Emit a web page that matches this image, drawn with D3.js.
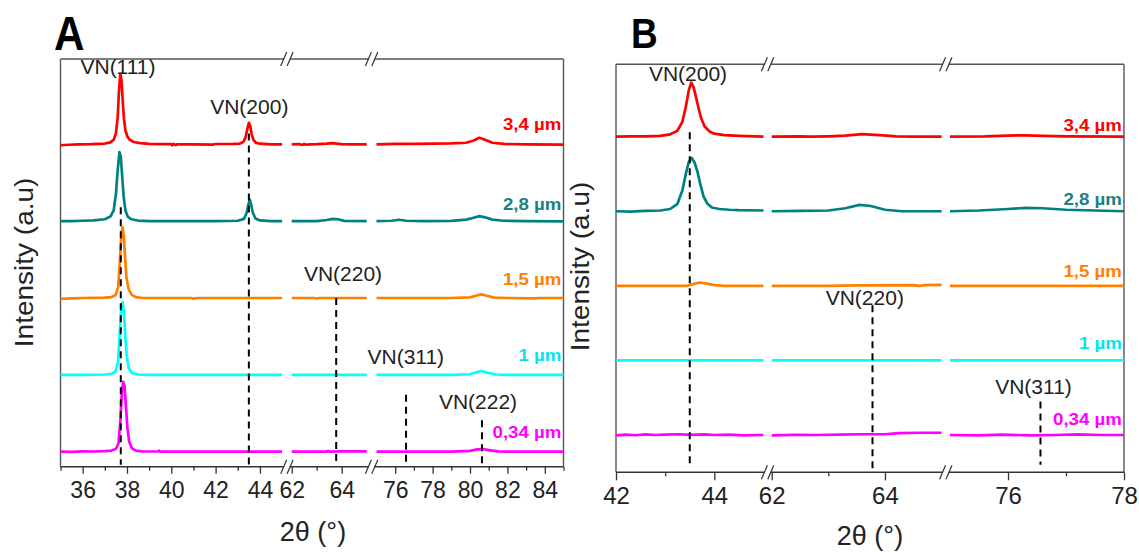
<!DOCTYPE html>
<html>
<head>
<meta charset="utf-8">
<script src="https://cdn.jsdelivr.net/npm/d3@7"></script>
<style>
  html, body { margin: 0; padding: 0; background: #fff; }
  svg { display: block; }
  text { font-family: "Liberation Sans", Arial, sans-serif; }
</style>
</head>
<body>
<svg id="chart" width="1139" height="552"></svg>
<script>
// ---------------- DATA ----------------
const seriesLabels = ["3,4 µm", "2,8 µm", "1,5 µm", "1 µm", "0,34 µm"];
const stackOffsets = [400, 300, 200, 100, 0];

// x-axis segments (broken axis), degrees 2θ
const segmentsA = [[35, 45], [62, 65], [75, 85]];
const segmentsB = [[42, 45], [62, 65], [75, 78]];

const majorTicksA = [36, 38, 40, 42, 44, 62, 64, 76, 78, 80, 82, 84];
const minorTicksA = [35, 37, 39, 41, 43, 63, 77, 79, 81, 83, 85];
const majorTicksB = [42, 44, 62, 64, 76, 78];
const minorTicksB = [43, 63, 77];

// reflection markers: [label, 2θ, top of dashed line (a.u.), bottom (a.u.)]
const reflectionsA = [["VN(111)", 37.72, 318, -17], ["VN(200)", 43.5, 414, -17],
                      ["VN(220)", 63.78, 200, -17], ["VN(311)", 76.58, 74, -17],
                      ["VN(222)", 80.64, 41, -17]];
const reflectionsB = [["VN(200)", 43.5, 406, -42], ["VN(220)", 63.78, 174, -50],
                      ["VN(311)", 76.56, 45, -40]];

// Panel A patterns: [2θ, intensity a.u. (relative to each curve's baseline)]
const a34 = [[35.0,-1.2],[35.4,-0.6],[35.8,0],[36.4,0.2],[37.0,1],[37.25,2.5],[37.4,6],[37.5,14],[37.58,35],[37.64,70],[37.70,91.5],[37.75,84],[37.8,60],[37.86,34],[37.93,18],[38.02,10],[38.12,6],[38.3,3],[38.6,1.5],[39.0,0.6],[39.6,0.3],[40.0,0.2],[40.05,-1.2],[40.1,0.6],[40.2,-1],[40.25,0],[41.0,0],[41.9,-0.3],[42.0,0.4],[42.8,0.5],[43.1,1],[43.25,3],[43.35,9],[43.43,20],[43.5,28],[43.56,24],[43.62,14],[43.7,6],[43.82,2],[44.0,0.8],[44.5,0],[45.0,0],
  [62.0,0],[62.3,0.3],[62.4,-0.8],[62.5,0.2],[62.6,-0.6],[62.7,0],[63.0,0.3],[63.4,1],[63.6,1.5],[63.8,0.8],[64.0,0.3],[64.5,0],[65.0,0],
  [75.0,0],[76.0,0.5],[77.0,0.5],[78.0,0.8],[79.0,1.2],[79.8,2],[80.2,5],[80.5,8.5],[80.8,6],[81.2,2],[81.8,0.5],[83.0,0],[85.0,-0.4]];
const a28 = [[35.0,0],[35.5,0],[36.0,0.5],[36.5,1],[37.0,2.5],[37.25,6],[37.4,14],[37.5,35],[37.58,66],[37.66,89.8],[37.72,84],[37.78,60],[37.85,32],[37.93,14],[38.03,6],[38.2,2.5],[38.5,0.8],[39.0,0],[40.0,0],[41.0,0],[42.0,0],[43.0,0.5],[43.28,3],[43.4,11],[43.48,22],[43.54,28],[43.6,22],[43.68,11],[43.8,3.5],[44.0,1],[44.5,0],[45.0,0],
  [62.0,0],[63.0,0],[63.4,1.5],[63.65,3],[63.85,2.5],[64.1,0.3],[65.0,0],
  [75.0,0],[75.8,0.5],[76.2,1.8],[76.6,0.5],[77.5,0],[79.0,0.3],[79.8,2],[80.2,4.5],[80.5,6.5],[80.8,5],[81.2,2],[81.8,0.5],[83.0,0],[85.0,-0.4]];
const a15 = [[35.0,-1],[35.5,-0.5],[36.0,0],[36.5,0.3],[37.0,0.5],[37.3,1.2],[37.48,3.5],[37.6,14],[37.68,48],[37.75,84],[37.8,92],[37.86,80],[37.92,50],[37.98,26],[38.08,11],[38.22,4],[38.4,1.2],[38.7,0],[40.0,0],[40.9,0],[41.0,-0.8],[41.2,0],[42.0,0],[43.0,0],[44.0,0],[45.0,0],
  [62.0,0],[62.9,0],[63.0,-0.6],[63.1,0],[64.0,0],[65.0,0],
  [75.0,0],[77.0,0],[79.0,0],[80.0,0.8],[80.3,3],[80.6,4.7],[80.9,3],[81.3,0.5],[82.0,0],[83.5,-0.6],[83.6,0],[85.0,0]];
const a10 = [[35.0,0],[36.0,0],[37.0,0.5],[37.3,1.3],[37.48,4],[37.6,17],[37.68,58],[37.75,90],[37.8,94.6],[37.86,82],[37.92,52],[37.99,24],[38.08,9],[38.22,2.5],[38.5,0.5],[39.0,0],[45.0,0],
  [62.0,0],[65.0,0],
  [75.0,0],[79.0,0],[80.0,0.8],[80.3,3],[80.6,5],[80.9,3],[81.4,0.5],[82.0,0],[85.0,0]];
const a034 = [[35.0,0],[35.5,-0.3],[36.0,0.5],[36.5,0.3],[37.0,0.8],[37.3,1.5],[37.5,3.5],[37.62,11],[37.7,40],[37.77,78],[37.83,91],[37.89,85],[37.95,60],[38.02,31],[38.1,13],[38.22,4.5],[38.4,1.5],[38.7,0.5],[39.4,0.3],[39.45,1.5],[39.5,0],[40.0,0],[45.0,0],
  [62.0,0],[63.4,0],[63.45,1],[63.5,0],[64.0,0.5],[65.0,0.5],
  [75.0,0],[79.0,0],[80.0,1],[80.4,3],[80.7,3.5],[81.0,2],[81.5,0.5],[82.0,0],[85.0,0]];

// Panel B patterns
const b34 = [[42.0,0],[42.3,0.5],[42.6,0.3],[42.9,1],[43.1,3],[43.25,8],[43.35,20],[43.42,40],[43.48,62],[43.53,72.4],[43.58,66],[43.63,52],[43.68,38],[43.73,25],[43.8,14],[43.9,7],[44.0,4],[44.2,2],[44.5,1],[45.0,0],
  [62.0,0],[62.5,0.5],[62.7,0],[63.0,0.5],[63.3,1.5],[63.6,3.5],[63.9,2],[64.2,0.5],[64.5,0],[65.0,0],
  [75.0,0],[75.6,0.3],[76.0,1.5],[76.3,1.8],[76.6,1],[77.0,0.5],[78.0,0]];
const b28 = [[42.0,0],[42.3,-0.5],[42.6,0.5],[42.9,1],[43.1,3],[43.25,10],[43.35,28],[43.42,50],[43.48,66],[43.54,71.6],[43.6,65],[43.66,52],[43.72,35],[43.78,20],[43.86,10],[43.95,5],[44.1,3],[44.3,2],[44.5,1.5],[45.0,1],
  [62.0,0],[62.5,0.5],[63.0,1],[63.3,4],[63.55,8.5],[63.75,7],[64.0,2],[64.3,0],[65.0,0],
  [75.0,0],[75.5,1],[76.0,3],[76.3,4.5],[76.6,4],[77.0,2],[77.5,1],[78.0,0]];
const b15 = [[42.0,0],[43.0,0],[43.45,0],[43.55,2],[43.7,4.5],[43.85,3],[44.0,1],[44.2,0],[45.0,0],
  [62.0,0],[63.0,0],[63.5,0.7],[64.5,1],[64.6,0],[64.7,1],[65.0,1.2],
  [75.0,0],[78.0,0]];
const b10 = [[42.0,0],[45.0,0],[62.0,0],[65.0,0],[75.0,0],[78.0,0]];
const b034 = [[42.0,-0.5],[42.2,0.5],[42.4,-0.3],[42.6,0.8],[42.8,0],[43.0,0.5],[43.3,1],[43.5,0.3],[43.8,0.8],[44.0,0],[44.3,0.5],[44.6,-0.5],[45.0,0],
  [62.0,-0.5],[62.4,0.3],[62.8,0],[63.2,0.5],[63.6,1],[64.0,1],[64.25,2.5],[64.6,3],[65.0,3],
  [75.0,0],[75.5,-0.5],[75.9,0.5],[76.4,-0.5],[76.8,0],[77.2,0.8],[77.6,0],[78.0,0]];

// ---------------- STYLE / LAYOUT ----------------
const colors = ["#ff0000", "#008080", "#ff8000", "#00ffff", "#ff00ff"];
const labelColors = ["#ff0000", "#1a8080", "#ff8000", "#00e5ee", "#ff00ff"];
const FONT = '"Liberation Sans", Arial, sans-serif';

const svg = d3.select("#chart");

function drawPanel(cfg) {
  const g = svg.append("g");
  const yScale = d3.scaleLinear().domain(cfg.yDomain).range([cfg.bottom, cfg.top]);
  const xScales = cfg.segments.map((s, i) =>
    d3.scaleLinear().domain(s).range(cfg.segRanges[i]));
  const xOf = v => {
    for (let i = 0; i < cfg.segments.length; i++) {
      const s = cfg.segments[i];
      if (v >= s[0] - 1e-9 && v <= s[1] + 1e-9) return xScales[i](v);
    }
    return null;
  };

  // frame
  const fr = g.append("g").attr("stroke", "#555").attr("stroke-width", 1.4).attr("fill", "none");
  fr.append("line").attr("x1", cfg.left).attr("x2", cfg.right).attr("y1", cfg.top).attr("y2", cfg.top);
  fr.append("line").attr("x1", cfg.left).attr("x2", cfg.left).attr("y1", cfg.top).attr("y2", cfg.bottom);
  fr.append("line").attr("x1", cfg.right).attr("x2", cfg.right).attr("y1", cfg.top).attr("y2", cfg.bottom);
  fr.append("line").attr("x1", cfg.left).attr("x2", cfg.right).attr("y1", cfg.bottom).attr("y2", cfg.bottom)
    .attr("stroke", "#333");

  // bottom axis ticks via d3 axes (one per segment)
  cfg.segments.forEach((s, i) => {
    const maj = cfg.majorTicks.filter(t => t >= s[0] && t <= s[1]);
    const min = cfg.minorTicks.filter(t => t >= s[0] && t <= s[1]);
    const axMin = d3.axisBottom(xScales[i]).tickValues(min).tickSize(cfg.minorLen).tickFormat("");
    const axMaj = d3.axisBottom(xScales[i]).tickValues(maj).tickSize(cfg.majorLen)
      .tickPadding(cfg.tickPad).tickFormat(d3.format("d"));
    const gMin = g.append("g").attr("transform", `translate(0,${cfg.bottom})`).call(axMin);
    const gMaj = g.append("g").attr("transform", `translate(0,${cfg.bottom})`).call(axMaj);
    [gMin, gMaj].forEach(ax => {
      ax.select(".domain").remove();
      ax.selectAll(".tick line").attr("stroke", "#333").attr("stroke-width", 1.3);
    });
    gMaj.selectAll(".tick text").attr("font-family", FONT).attr("font-size", cfg.tickFont)
      .attr("fill", "#222").attr("dy", "0.71em");
  });

  // break marks on top and bottom axis lines
  cfg.breaks.forEach(bx => {
    [cfg.top, cfg.bottom].forEach(yy => {
      g.append("rect").attr("x", bx - 3).attr("y", yy - 1.5).attr("width", 6).attr("height", 3).attr("fill", "#fff");
      [-3.2, 3.2].forEach(dx => {
        g.append("line").attr("x1", bx + dx - 3).attr("y1", yy + 7).attr("x2", bx + dx + 3).attr("y2", yy - 7)
          .attr("stroke", "#333").attr("stroke-width", 1.2);
      });
    });
  });

  // curves
  const line = d3.line();
  cfg.series.forEach((data, k) => {
    cfg.segments.forEach((s, i) => {
      const pts = data.filter(d => d[0] >= s[0] - 1e-9 && d[0] <= s[1] + 1e-9)
        .map(d => [xScales[i](d[0]), yScale(d[1] + stackOffsets[k])]);
      if (pts.length < 2) return;
      g.append("path").attr("d", line(pts)).attr("fill", "none")
        .attr("stroke", colors[k]).attr("stroke-width", 2.7).attr("stroke-linejoin", "round");
    });
  });

  // dashed reflection lines + labels
  cfg.reflections.forEach((r, i) => {
    const x = xOf(r[1]);
    g.append("line").attr("x1", x).attr("x2", x).attr("y1", yScale(r[2])).attr("y2", yScale(r[3]))
      .attr("stroke", "#000").attr("stroke-width", 2).attr("stroke-dasharray", "7,5");
    const lp = cfg.reflLabelPos[i];
    g.append("text").attr("x", lp[0]).attr("y", lp[1]).attr("text-anchor", "middle")
      .attr("font-family", FONT).attr("font-size", 21).attr("fill", "#222").text(r[0]);
  });

  // series labels at right
  seriesLabels.forEach((lab, k) => {
    const y = yScale(stackOffsets[k]) - cfg.seriesLabelDy[k];
    g.append("text").attr("transform", `translate(${cfg.right - 2},${y}) scale(1.1,1)`)
      .attr("text-anchor", "end").attr("font-family", FONT).attr("font-weight", "bold")
      .attr("font-size", 17).attr("fill", labelColors[k]).text(lab);
  });

  // axis titles
  g.append("text").attr("transform", `translate(${cfg.yTitle[0]},${cfg.yTitle[1]}) rotate(-90) scale(1.12,1)`)
    .attr("text-anchor", "middle").attr("font-family", FONT).attr("font-size", 25).attr("fill", "#222")
    .text("Intensity (a.u)");
  g.append("text").attr("x", cfg.xTitle[0]).attr("y", cfg.xTitle[1]).attr("text-anchor", "middle")
    .attr("font-family", FONT).attr("font-size", 27).attr("fill", "#222").text("2θ (°)");

  // panel letter
  g.append("text").attr("transform", `translate(${cfg.letterPos[0]},${cfg.letterPos[1]}) scale(0.88,1)`)
    .attr("font-family", FONT).attr("font-weight", "bold").attr("font-size", cfg.letterSize)
    .attr("fill", "#000").text(cfg.letter);
}

drawPanel({
  letter: "A", letterPos: [54, 50], letterSize: 48,
  left: 60.5, right: 563.5, top: 59, bottom: 466.7,
  yDomain: [-19.5, 511],
  segments: segmentsA,
  segRanges: [[60.5, 282.1], [291.7, 366.7], [376.5, 563.5]],
  breaks: [286.9, 371.6],
  majorTicks: majorTicksA, minorTicks: minorTicksA,
  majorLen: 7, minorLen: 4, tickPad: 8, tickFont: 23,
  series: [a34, a28, a15, a10, a034],
  reflections: reflectionsA,
  reflLabelPos: [[118, 73.5], [249.3, 113.6], [343, 280.6], [405.8, 364], [478, 409]],
  seriesLabelDy: [14.3, 10.7, 13.3, 14, 14],
  yTitle: [32.5, 262.4], xTitle: [313, 541]
});

drawPanel({
  letter: "B", letterPos: [631, 48], letterSize: 42,
  left: 616, right: 1124, top: 64.3, bottom: 472.3,
  yDomain: [-50, 497],
  segments: segmentsB,
  segRanges: [[616, 763.5], [771.7, 941.6], [950, 1124]],
  breaks: [767.6, 945.8],
  majorTicks: majorTicksB, minorTicks: minorTicksB,
  majorLen: 8, minorLen: 4, tickPad: 7, tickFont: 24,
  series: [b34, b28, b15, b10, b034],
  reflections: reflectionsB,
  reflLabelPos: [[688, 80.6], [864.8, 305], [1033.5, 394]],
  seriesLabelDy: [6, 6.7, 8.7, 11, 10],
  yTitle: [589, 266.5], xTitle: [870, 545]
});
</script>
</body>
</html>
